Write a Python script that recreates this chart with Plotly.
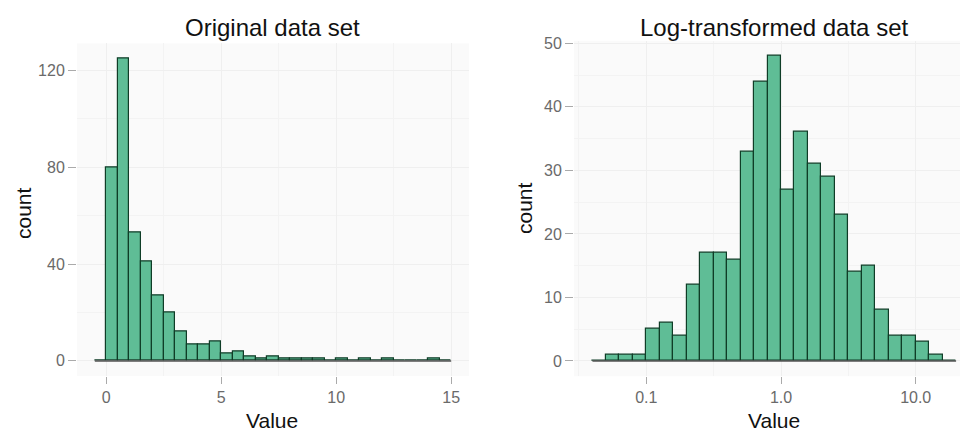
import plotly.graph_objects as go

# ---- data ----
orig_bin_start = -0.5
orig_bin_width = 0.5
orig_counts = [0, 80, 125, 53, 41, 27, 20, 12, 7, 7, 8, 3, 4, 2, 1, 2, 1, 1, 1, 1,
               0, 1, 0, 1, 0, 1, 0, 0, 0, 1, 0]

log_bin_start = -1.4   # log10 units
log_bin_width = 0.1
log_counts = [0, 1, 1, 1, 5, 6, 4, 12, 17, 17, 16, 33, 44, 48, 27, 36, 31, 29, 23,
              14, 15, 8, 4, 4, 3, 1, 0]

orig_xticks = [0, 5, 10, 15]
orig_yticks = [0, 40, 80, 120]
log_xtick_vals = [-1, 0, 1]
log_xtick_text = ["0.1", "1.0", "10.0"]
log_yticks = [0, 10, 20, 30, 40, 50]

titles = ["Original data set", "Log-transformed data set"]

# ---- styling ----
FILL = "#5fbd96"
EDGE = "#0f3d27"
W, H = 960, 437
FONT = "Liberation Sans"


def px(x):
    return x / W


def py(y):
    return 1 - y / H


def centers(start, width, n):
    return [start + width * (i + 0.5) for i in range(n)]


fig = go.Figure()

# baselines (zero-count bins outline)
oe0 = orig_bin_start
oe1 = orig_bin_start + orig_bin_width * len(orig_counts)
fig.add_trace(go.Scatter(x=[oe0, oe1], y=[0, 0], mode="lines",
                         line=dict(color="#555555", width=1.5),
                         xaxis="x", yaxis="y", showlegend=False, hoverinfo="skip"))
le0 = log_bin_start
le1 = log_bin_start + log_bin_width * len(log_counts)
fig.add_trace(go.Scatter(x=[le0, le1], y=[0, 0], mode="lines",
                         line=dict(color="#555555", width=1.5),
                         xaxis="x2", yaxis="y2", showlegend=False, hoverinfo="skip"))

fig.add_trace(go.Bar(
    x=centers(orig_bin_start, orig_bin_width, len(orig_counts)), y=orig_counts,
    width=orig_bin_width, marker=dict(color=FILL, line=dict(color=EDGE, width=1.2)),
    xaxis="x", yaxis="y", showlegend=False))
fig.add_trace(go.Bar(
    x=centers(log_bin_start, log_bin_width, len(log_counts)), y=log_counts,
    width=log_bin_width, marker=dict(color=FILL, line=dict(color=EDGE, width=1.2)),
    xaxis="x2", yaxis="y2", showlegend=False))

tickfont = dict(family=FONT, size=16, color="#6a6a6a")
common = dict(showline=False, zeroline=False, ticks="outside",
              tickcolor="#aaaaaa", tickwidth=1, tickfont=tickfont, automargin=False,
              showgrid=True, gridcolor="#efefef", gridwidth=1)

fig.update_layout(
    width=W, height=H, margin=dict(l=0, r=0, t=0, b=0, pad=0, autoexpand=False),
    paper_bgcolor="white", plot_bgcolor="#fafafa", bargap=0,
    xaxis=dict(domain=[px(77), px(469)], range=[-1.275, 15.775], anchor="y", ticklen=7,
               tickvals=orig_xticks, minor=dict(dtick=2.5, tick0=0, showgrid=True, gridcolor="#f3f3f3"),
               **common),
    yaxis=dict(domain=[py(376), py(43.4)], range=[-6.25, 131.25], anchor="x", ticklen=8,
               tickvals=orig_yticks, minor=dict(dtick=20, tick0=0, showgrid=True, gridcolor="#f3f3f3"),
               **common),
    xaxis2=dict(domain=[px(574), 1.0], range=[-1.537, 1.329], anchor="y2", ticklen=7,
                tickvals=log_xtick_vals, ticktext=log_xtick_text,
                minor=dict(dtick=0.5, tick0=0, showgrid=True, gridcolor="#f3f3f3"),
                **common),
    yaxis2=dict(domain=[py(376.2), py(40.8)], range=[-2.4, 50.4], anchor="x2", ticklen=8,
                tickvals=log_yticks, minor=dict(dtick=5, tick0=0, showgrid=True, gridcolor="#f3f3f3"),
                **common),
)

ann = []
tfont = dict(family=FONT, size=24, color="#111111")
afont = dict(family=FONT, size=21, color="#111111")
ann.append(dict(text=titles[0], x=px(272), y=py(27), xref="paper", yref="paper",
                xanchor="center", yanchor="middle", showarrow=False, font=tfont))
ann.append(dict(text=titles[1], x=px(774), y=py(27), xref="paper", yref="paper",
                xanchor="center", yanchor="middle", showarrow=False, font=tfont))
for (xx, yy) in [(272, 420), (774, 420)]:
    ann.append(dict(text="Value", x=px(xx), y=py(yy), xref="paper", yref="paper",
                    xanchor="center", yanchor="middle", showarrow=False, font=afont))
for (xx, yy) in [(23, 213), (524, 208)]:
    ann.append(dict(text="count", x=px(xx), y=py(yy), xref="paper", yref="paper",
                    xanchor="center", yanchor="middle",
                    textangle=-90, showarrow=False, font=afont))
fig.update_layout(annotations=ann)

fig.write_html("out.html", config={"displayModeBar": False},
               post_script="document.body.style.margin='0';")
